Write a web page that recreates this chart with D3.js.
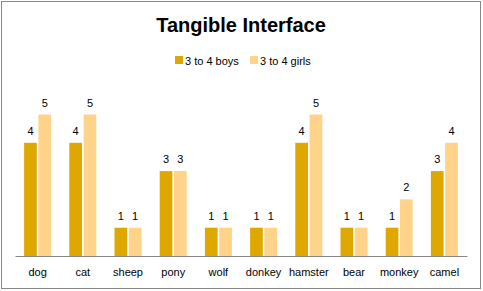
<!DOCTYPE html>
<html>
<head>
<meta charset="utf-8">
<style>
  body { margin: 0; background: #fff; font-family: "Liberation Sans", Arial, sans-serif; }
  svg { display: block; }
  .axis path { stroke: #888; }
  .axis line { display: none; }
  .axis text { font-size: 11px; fill: #000; font-family: "Liberation Sans", Arial, sans-serif; }
</style>
</head>
<body>
<svg width="483" height="291"></svg>
<script src="https://cdnjs.cloudflare.com/ajax/libs/d3/7.8.5/d3.min.js"></script>
<script>
var categories = ["dog", "cat", "sheep", "pony", "wolf", "donkey", "hamster", "bear", "monkey", "camel"];
var seriesNames = ["3 to 4 boys", "3 to 4 girls"];
var boys = [4, 4, 1, 3, 1, 1, 4, 1, 1, 3];
var girls = [5, 5, 1, 3, 1, 1, 5, 1, 2, 4];
var colors = ["#DFA800", "#FFD38A"];

var svg = d3.select("svg");

// outer frame
svg.append("rect")
  .attr("x", 1.5).attr("y", 1.5)
  .attr("width", 479).attr("height", 287)
  .attr("fill", "#fff")
  .attr("stroke", "#888")
  .attr("stroke-width", 1);

svg.append("text")
  .attr("x", 241).attr("y", 32)
  .attr("text-anchor", "middle")
  .attr("font-size", 20)
  .attr("font-weight", "bold")
  .text("Tangible Interface");

var margin = {left: 15, right: 16, bottom: 35},
    plotW = 483 - margin.left - margin.right,
    baseY = 256;

var x0 = d3.scaleBand().domain(categories).range([margin.left, margin.left + plotW]);
var x1 = d3.scaleBand().domain([0, 1]).range([0, 27]).paddingInner(0.11);
var y = d3.scaleLinear().domain([0, 5]).range([baseY, 114.5]);

var data = categories.map(function(c, i) { return {cat: c, vals: [boys[i], girls[i]]}; });

var grp = svg.append("g").selectAll("g")
  .data(data)
  .enter().append("g")
  .attr("transform", function(d) { return "translate(" + (x0(d.cat) + x0.bandwidth() / 2 - 13.5) + ",0)"; });

var cell = grp.selectAll("g")
  .data(function(d) { return d.vals.map(function(v, k) { return {k: k, v: v}; }); })
  .enter().append("g");

cell.append("rect")
  .attr("x", function(d) { return x1(d.k); })
  .attr("y", function(d) { return y(d.v); })
  .attr("width", x1.bandwidth())
  .attr("height", function(d) { return baseY - y(d.v); })
  .attr("fill", function(d) { return colors[d.k]; });

cell.append("text")
  .attr("x", function(d) { return x1(d.k) + x1.bandwidth() / 2; })
  .attr("y", function(d) { return y(d.v) - 8; })
  .attr("text-anchor", "middle")
  .attr("font-size", 11)
  .text(function(d) { return d.v; });

svg.append("g")
  .attr("class", "axis")
  .attr("transform", "translate(0," + baseY + ")")
  .call(d3.axisBottom(x0).tickSize(0).tickPadding(12).tickSizeOuter(0))
  .select(".domain").attr("stroke", "#888");

// legend
var legend = svg.append("g").selectAll("g")
  .data(seriesNames)
  .enter().append("g")
  .attr("transform", function(d, i) { return "translate(" + (175 + i * 75) + ",56)"; });

legend.append("rect")
  .attr("width", 8).attr("height", 8)
  .attr("fill", function(d, i) { return colors[i]; });

legend.append("text")
  .attr("x", 10).attr("y", 8.5)
  .attr("font-size", 11)
  .text(function(d) { return d; });
</script>
</body>
</html>
